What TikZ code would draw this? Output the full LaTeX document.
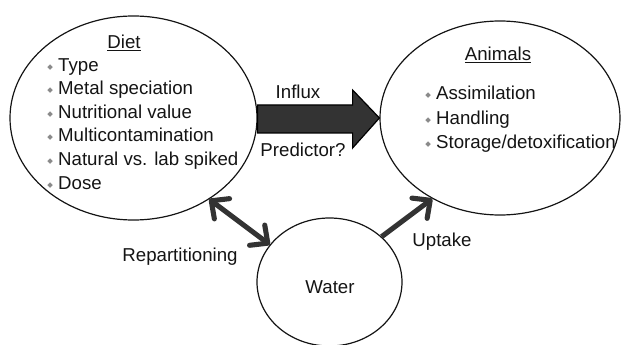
\documentclass[tikz,border=0pt]{standalone}
\usepackage{fontspec}
\setmainfont{Liberation Sans}
\newfontfamily\symfont{DejaVu Sans}
\usetikzlibrary{shapes.geometric,arrows.meta,calc}
\definecolor{ink}{HTML}{141414}
\definecolor{arrowgray}{HTML}{333333}
\definecolor{bulgray}{HTML}{8A8A8A}
\newcommand{\itm}[1]{\makebox[8.2pt][l]{\raisebox{1.5pt}{\symfont\fontsize{5.5}{5.5}\selectfont\color{bulgray}◆}}#1}
\tikzset{barbtip/.tip={Straight Barb[length=10pt, width=19pt, round]}}
\begin{document}
\begin{tikzpicture}[x=0.75pt,y=-0.75pt,
  bubble/.style={ellipse, draw=ink, line width=0.9pt, inner sep=0pt},
  lbl/.style={font=\fontsize{14}{17}\selectfont, text=ink, inner sep=0pt},
  lst/.style={lbl, align=left, anchor=north west},
  conn/.style={draw=arrowgray, line width=3.8pt},
  bigarrow/.style={fill=arrowgray, draw=black, line width=0.9pt, line join=miter}]
\useasboundingbox (0,0) rectangle (625,345);
% bubbles
\node[bubble, minimum width=185.25pt, minimum height=153pt] (diet) at (133.5,118) {};
\node[bubble, minimum width=180pt, minimum height=145.5pt] (animals) at (500,118) {};
\node[bubble, minimum width=108.75pt, minimum height=96pt] (water) at (329.5,282) {};
% texts in bubbles
\node[lbl] (diett) at (124,43) {\underline{Diet}};
\node[lst, font=\fontsize{14}{17.7}\selectfont] (dietl) at (47,58)
  {\itm{Type}\\ \itm{Metal speciation}\\ \itm{Nutritional value}\\ \itm{Multicontamination}\\ \itm{Natural vs. lab spiked}\\ \itm{Dose}};
\node[lbl] (animt) at (498,55) {\underline{Animals}};
\node[lst, font=\fontsize{14}{18.4}\selectfont] (animl) at (425,86)
  {\itm{Assimilation}\\ \itm{Handling}\\ \itm{Storage/detoxification}};
\node[lbl] (watert) at (330,287) {Water};
% big influx arrow
\filldraw[bigarrow] ($(diet.east)+(0,-13)$) -- ($(diet.east)+(95,-13)$) -- ($(diet.east)+(95,-28)$)
  -- (animals.west) -- ($(diet.east)+(95,30)$) -- ($(diet.east)+(95,15)$) -- ($(diet.east)+(0,15)$) -- cycle;
\node[lbl] (influx) at (298,92) {Influx};
\node[lbl] (pred) at (303,150) {Predictor?};
% repartitioning and uptake
\draw[conn, barbtip-barbtip] (diet.-47) -- (water.148);
\draw[conn, -barbtip] (water.41) -- (animals.-130);
\node[lbl] (repart) at (180,257) {Repartitioning};
\node[lbl] (uptake) at (442,242) {Uptake};
\end{tikzpicture}
\end{document}
